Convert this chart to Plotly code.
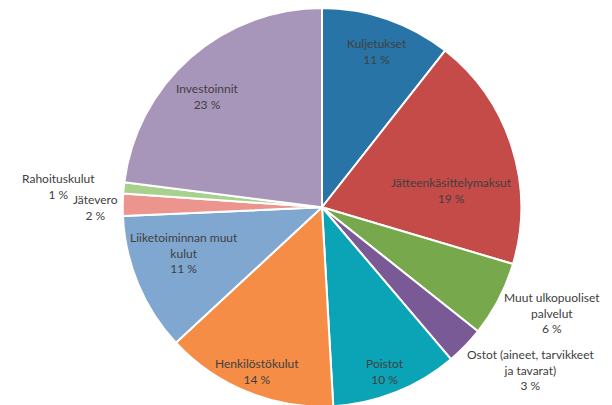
import plotly.graph_objects as go

categories = ["Kuljetukset", "Jätteenkäsittelymaksut", "Muut ulkopuoliset palvelut",
              "Ostot (aineet, tarvikkeet ja tavarat)", "Poistot", "Henkilöstökulut",
              "Liiketoiminnan muut kulut", "Jätevero", "Rahoituskulut", "Investoinnit"]
display_names = ["Kuljetukset", "Jätteenkäsittelymaksut", "Muut ulkopuoliset<br>palvelut",
                 "Ostot (aineet, tarvikkeet<br>ja tavarat)", "Poistot", "Henkilöstökulut",
                 "Liiketoiminnan muut<br>kulut", "Jätevero", "Rahoituskulut", "Investoinnit"]
values = [10.6, 19.0, 6.1, 3.1, 10.3, 14.0, 11.2, 1.8, 0.9, 23.0]
colors = ["#2874A6", "#C54B48", "#77A94C", "#7A5997", "#0BA3B6", "#F58D46",
          "#80A7D0", "#EC958F", "#A9D18E", "#A896BA"]

# data label centre points (pixels from top-left of the figure)
label_pos = [(369, 43), (443, 182.5), (544, 305), (522, 362), (377, 363),
             (248.5, 363), (176.5, 245), (87, 199.5), (50, 178), (199, 88.5)]

W, H = 612, 405
total = sum(values)
pct = [round(v / total * 100) for v in values]
font = dict(family="Lato, Open Sans, sans-serif", size=12, color="#404040")

cx, cy, r = 314, 199, 199.5

fig = go.Figure(go.Pie(
    labels=categories,
    values=values,
    textinfo="none",
    sort=False,
    direction="clockwise",
    rotation=0,
    marker=dict(colors=colors, line=dict(color="white", width=2)),
    hoverinfo="label+percent",
    domain=dict(x=[(cx - r) / W, (cx + r) / W],
                y=[max(0, (H - cy - r) / H), min(1, (H - cy + r) / H)]),
    showlegend=False,
))

for name, p, (px, py) in zip(display_names, pct, label_pos):
    fig.add_annotation(
        x=px / W, y=1 - py / H, xref="paper", yref="paper",
        text=f"{name}<br>{p} %",
        showarrow=False, font=font, align="center",
        xanchor="center", yanchor="middle",
    )

fig.update_layout(
    width=W, height=H,
    margin=dict(l=0, r=0, t=0, b=0),
    paper_bgcolor="white",
    plot_bgcolor="white",
)

fig.write_html("out.html")
